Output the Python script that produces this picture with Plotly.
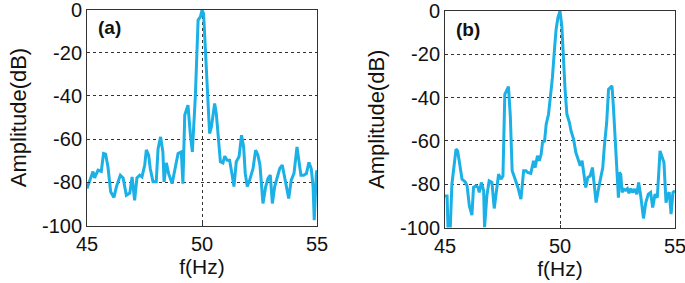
import plotly.graph_objects as go

# Panel (a) spectrum
freq_a = [45.00, 45.12, 45.26, 45.33, 45.48, 45.62, 45.72, 45.81, 45.91, 46.03,
          46.17, 46.28, 46.45, 46.57, 46.71, 46.86, 46.96, 47.07, 47.17, 47.29,
          47.39, 47.51, 47.58, 47.68, 47.75, 47.87, 48.01, 48.09, 48.20, 48.30,
          48.35, 48.45, 48.55, 48.70, 48.81, 48.96, 49.10, 49.17, 49.25, 49.39,
          49.49, 49.58, 49.71, 49.83, 49.93, 50.00, 50.07, 50.16, 50.26, 50.33,
          50.41, 50.55, 50.62, 50.74, 50.80, 50.91, 50.99, 51.09, 51.20, 51.30,
          51.39, 51.49, 51.61, 51.72, 51.81, 51.88, 51.97, 52.07, 52.22, 52.33,
          52.43, 52.52, 52.59, 52.65, 52.77, 52.87, 52.97, 53.06, 53.16, 53.26,
          53.38, 53.49, 53.59, 53.67, 53.77, 53.88, 54.00, 54.13, 54.22, 54.30,
          54.42, 54.54, 54.65, 54.75, 54.83, 54.88, 54.97, 55.00]
amp_a = [-82.9, -79.0, -75.0, -78.0, -74.4, -75.0, -66.7, -67.0, -72.8, -84.4,
         -87.0, -82.0, -76.7, -78.0, -86.0, -85.0, -77.5, -88.3, -78.0, -76.7,
         -77.5, -72.0, -65.0, -67.4, -73.6, -79.8, -79.8, -64.4, -59.0, -66.0,
         -79.8, -71.0, -76.0, -80.6, -74.4, -66.7, -65.9, -80.6, -48.9, -44.3,
         -57.4, -65.9, -40.4, -4.9, -3.4, -0.3, -1.9, -21.9, -46.6, -57.4,
         -54.3, -43.5, -48.0, -61.3, -70.5, -71.0, -67.9, -69.8, -69.8, -75.9,
         -82.0, -70.5, -68.2, -58.2, -63.6, -75.9, -82.0, -79.0, -73.6, -65.1,
         -67.4, -72.0, -82.0, -89.8, -82.0, -78.2, -76.7, -89.8, -82.0, -77.5,
         -73.6, -72.0, -77.5, -82.9, -87.5, -79.0, -75.9, -63.6, -72.0, -76.7,
         -76.7, -75.9, -70.8, -73.6, -82.0, -97.5, -75.9, -74.4]

# Panel (b) spectrum
freq_b = [45.00, 45.09, 45.13, 45.23, 45.30, 45.41, 45.48, 45.55, 45.64, 45.74,
          45.88, 45.96, 46.06, 46.17, 46.24, 46.35, 46.43, 46.49, 46.58, 46.68,
          46.72, 46.82, 46.92, 47.04, 47.14, 47.23, 47.33, 47.43, 47.52, 47.60,
          47.69, 47.76, 47.84, 47.92, 48.05, 48.17, 48.30, 48.42, 48.52, 48.59,
          48.73, 48.85, 48.92, 49.02, 49.10, 49.18, 49.24, 49.33, 49.40, 49.50,
          49.57, 49.67, 49.76, 49.83, 49.91, 50.00, 50.08, 50.15, 50.22, 50.30,
          50.41, 50.48, 50.59, 50.69, 50.77, 50.88, 50.96, 51.02, 51.12, 51.21,
          51.31, 51.41, 51.48, 51.57, 51.67, 51.77, 51.86, 51.93, 52.03, 52.11,
          52.18, 52.26, 52.32, 52.40, 52.47, 52.54, 52.58, 52.64, 52.70, 52.76,
          52.84, 52.93, 53.00, 53.08, 53.16, 53.25, 53.34, 53.42, 53.51, 53.63,
          53.73, 53.84, 53.94, 54.03, 54.13, 54.23, 54.35, 54.45, 54.52, 54.61,
          54.68, 54.75, 54.83, 54.91, 55.00]
amp_b = [-85.4, -85.4, -100.0, -100.0, -80.0, -70.0, -63.8, -64.6, -71.5, -77.7,
         -78.9, -80.8, -90.0, -94.3, -81.5, -80.8, -81.5, -83.8, -79.2, -83.0,
         -100.0, -85.4, -78.5, -79.2, -91.2, -83.8, -75.4, -77.7, -76.2, -38.5,
         -36.2, -34.9, -48.5, -73.8, -77.7, -81.5, -86.9, -73.8, -73.8, -74.6,
         -75.0, -69.2, -72.3, -66.9, -69.2, -66.2, -60.8, -60.0, -52.3, -47.7,
         -40.8, -30.8, -17.7, -8.5, -3.1, 0.0, -6.9, -23.8, -36.2, -47.7,
         -51.5, -55.4, -59.2, -65.4, -68.5, -71.5, -69.2, -73.8, -81.5, -76.9,
         -76.2, -72.3, -80.0, -88.5, -82.3, -76.2, -72.3, -62.3, -51.5, -36.2,
         -35.4, -34.6, -43.8, -59.2, -70.0, -86.2, -74.6, -75.4, -83.8, -82.3,
         -82.8, -82.0, -84.2, -82.0, -83.8, -82.3, -84.6, -79.2, -85.4, -95.8,
         -88.5, -84.6, -83.8, -90.8, -84.6, -86.2, -64.6, -67.7, -70.0, -88.5,
         -84.6, -83.8, -93.8, -83.8, -83.0]

x_ticks = [45, 50, 55]
x_tick_labels = ["45", "50", "55"]
y_ticks = [-100, -80, -60, -40, -20, 0]
y_tick_labels = ["-100", "-80", "-60", "-40", "-20", "0"]
panel_labels = ["(a)", "(b)"]

W, H = 685, 283
LINE_COLOR = "rgb(27,176,230)"
FONT = "Liberation Sans, Arial, sans-serif"

fig = go.Figure()
fig.add_trace(go.Scatter(x=freq_a, y=amp_a, mode="lines", xaxis="x", yaxis="y",
                         line=dict(color=LINE_COLOR, width=3), showlegend=False))
fig.add_trace(go.Scatter(x=freq_b, y=amp_b, mode="lines", xaxis="x2", yaxis="y2",
                         line=dict(color=LINE_COLOR, width=3), showlegend=False))

def xax(domain, anchor):
    return dict(domain=domain, anchor=anchor, range=[45, 55], tickvals=x_ticks,
                ticktext=x_tick_labels, automargin=False, ticklabeloverflow="allow",
                ticks="inside", ticklen=3, tickcolor="#333", showline=True,
                linecolor="#333", linewidth=1, mirror=True, showgrid=True,
                gridcolor="#333", griddash="dot", gridwidth=1, zeroline=False,
                tickfont=dict(size=20, color="#111", family=FONT),
                title=dict(text="f(Hz)", font=dict(size=21, color="#111", family=FONT),
                           standoff=5))

def yax(domain, anchor):
    return dict(domain=domain, anchor=anchor, range=[-100, 0], tickvals=y_ticks,
                ticktext=y_tick_labels, automargin=False, ticklabeloverflow="allow",
                ticks="inside", ticklen=3, tickcolor="#333", showline=True,
                linecolor="#333", linewidth=1, mirror=True, showgrid=True,
                gridcolor="#333", griddash="dot", gridwidth=1, zeroline=False,
                tickfont=dict(size=20, color="#111", family=FONT),
                title=dict(text="Amplitude(dB)", font=dict(size=22, color="#111", family=FONT),
                           standoff=9))

xa_dom = [87 / W, 317 / W]
xb_dom = [445 / W, 675 / W]
ya_dom = [1 - 225.5 / H, 1 - 9.5 / H]
yb_dom = [1 - 227.5 / H, 1 - 11 / H]

fig.update_layout(
    width=W, height=H,
    margin=dict(l=0, r=0, t=0, b=0),
    paper_bgcolor="white", plot_bgcolor="white",
    font=dict(family=FONT, color="#111"),
    xaxis=xax(xa_dom, "y"), yaxis=yax(ya_dom, "x"),
    xaxis2=xax(xb_dom, "y2"), yaxis2=yax(yb_dom, "x2"),
    annotations=[
        dict(text="<b>%s</b>" % panel_labels[0], xref="paper", yref="paper",
             x=96 / W, y=1 - 27 / H, xanchor="left", yanchor="middle",
             showarrow=False, font=dict(size=19, color="#111", family=FONT)),
        dict(text="<b>%s</b>" % panel_labels[1], xref="paper", yref="paper",
             x=454 / W, y=1 - 29 / H, xanchor="left", yanchor="middle",
             showarrow=False, font=dict(size=19, color="#111", family=FONT)),
    ],
)

fig.write_html("out.html", config={"displayModeBar": False},
               post_script="document.body.style.margin='0';document.body.style.overflow='hidden';")
